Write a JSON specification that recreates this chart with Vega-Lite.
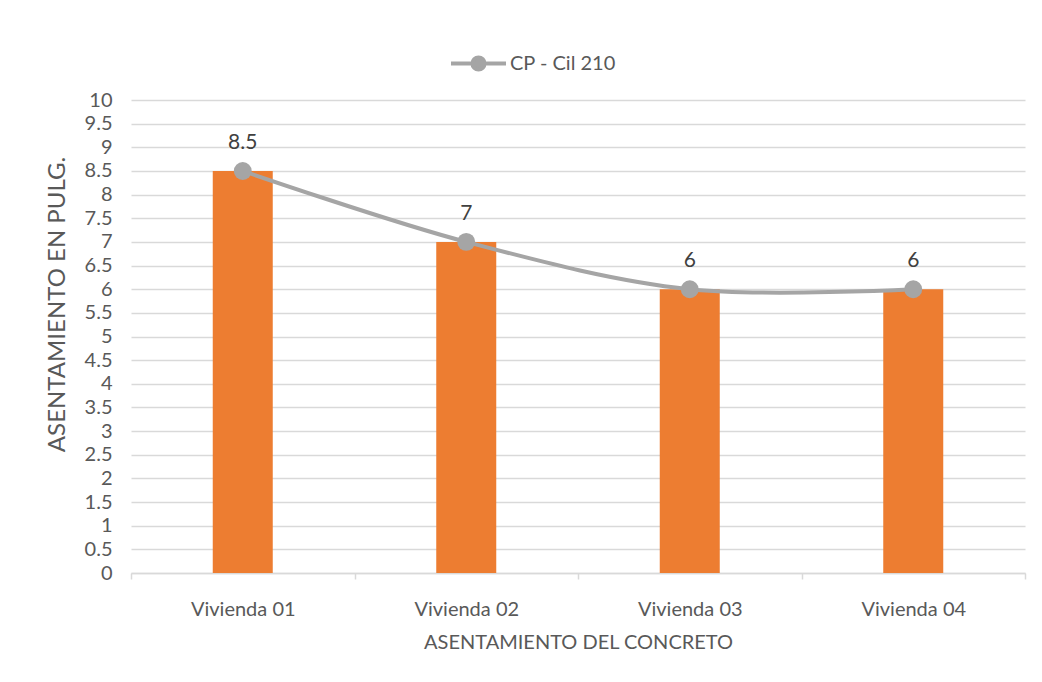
{
  "$schema": "https://vega.github.io/schema/vega-lite/v6.json",
  "autosize": "none",
  "width": 894,
  "height": 473,
  "padding": {"left": 131, "top": 100, "right": 17, "bottom": 109},
  "background": "white",
  "config": {
    "font": "Lato",
    "view": {"stroke": null},
    "axis": {"labelColor": "#595959", "titleColor": "#595959", "labelFont": "Lato", "titleFont": "Lato", "titleFontWeight": "normal"}
  },
  "data": {
    "values": [
      {"vivienda": "Vivienda 01", "asentamiento": 8.5, "serie": "CP - Cil 210"},
      {"vivienda": "Vivienda 02", "asentamiento": 7, "serie": "CP - Cil 210"},
      {"vivienda": "Vivienda 03", "asentamiento": 6, "serie": "CP - Cil 210"},
      {"vivienda": "Vivienda 04", "asentamiento": 6, "serie": "CP - Cil 210"}
    ]
  },
  "encoding": {
    "x": {
      "field": "vivienda", "type": "nominal", "sort": null,
      "scale": {"paddingInner": 0, "paddingOuter": 0},
      "axis": {
        "title": "ASENTAMIENTO DEL CONCRETO", "labelAngle": 0, "labelFontSize": 20,
        "titleFontSize": 20, "labelPadding": 20, "titlePadding": 13,
        "domainColor": "#D9D9D9", "domainWidth": 1.5, "tickColor": "#D9D9D9", "tickSize": 6, "tickWidth": 1.5,
        "tickBand": "extent", "grid": false
      }
    },
    "y": {
      "field": "asentamiento", "type": "quantitative",
      "scale": {"domain": [0, 10], "nice": false},
      "axis": {
        "title": "ASENTAMIENTO EN PULG.", "values": [0,0.5,1,1.5,2,2.5,3,3.5,4,4.5,5,5.5,6,6.5,7,7.5,8,8.5,9,9.5,10],
        "format": "~g",
        "labelFontSize": 20, "titleFontSize": 24, "labelPadding": 19, "ticks": false, "domain": false,
        "gridColor": "#D9D9D9", "gridWidth": 1.5, "titleX": -62, "titleY": 204
      }
    }
  },
  "layer": [
    {"mark": {"type": "bar", "color": "#ED7D31", "size": 60}},
    {
      "mark": {"type": "line", "interpolate": "catmull-rom", "strokeWidth": 4},
      "encoding": {
        "color": {
          "field": "serie", "type": "nominal",
          "scale": {"range": ["#A5A5A5"]},
          "legend": {
            "title": null, "orient": "none", "legendX": 318, "legendY": -66,
            "symbolType": "M-1,0H1M-0.22,0A0.22,0.22 0 1,0 0.22,0A0.22,0.22 0 1,0 -0.22,0",
            "symbolSize": 3025, "symbolStrokeWidth": 4, "symbolFillColor": "#A5A5A5", "symbolStrokeColor": "#A5A5A5",
            "labelFontSize": 20, "labelColor": "#595959", "labelOffset": 2, "labelFont": "Lato"
          }
        }
      }
    },
    {"mark": {"type": "circle", "color": "#A5A5A5", "size": 320, "opacity": 1}},
    {
      "mark": {"type": "text", "dy": -28, "fontSize": 21, "color": "#404040", "font": "Lato"},
      "encoding": {"text": {"field": "asentamiento", "type": "quantitative"}}
    }
  ]
}
